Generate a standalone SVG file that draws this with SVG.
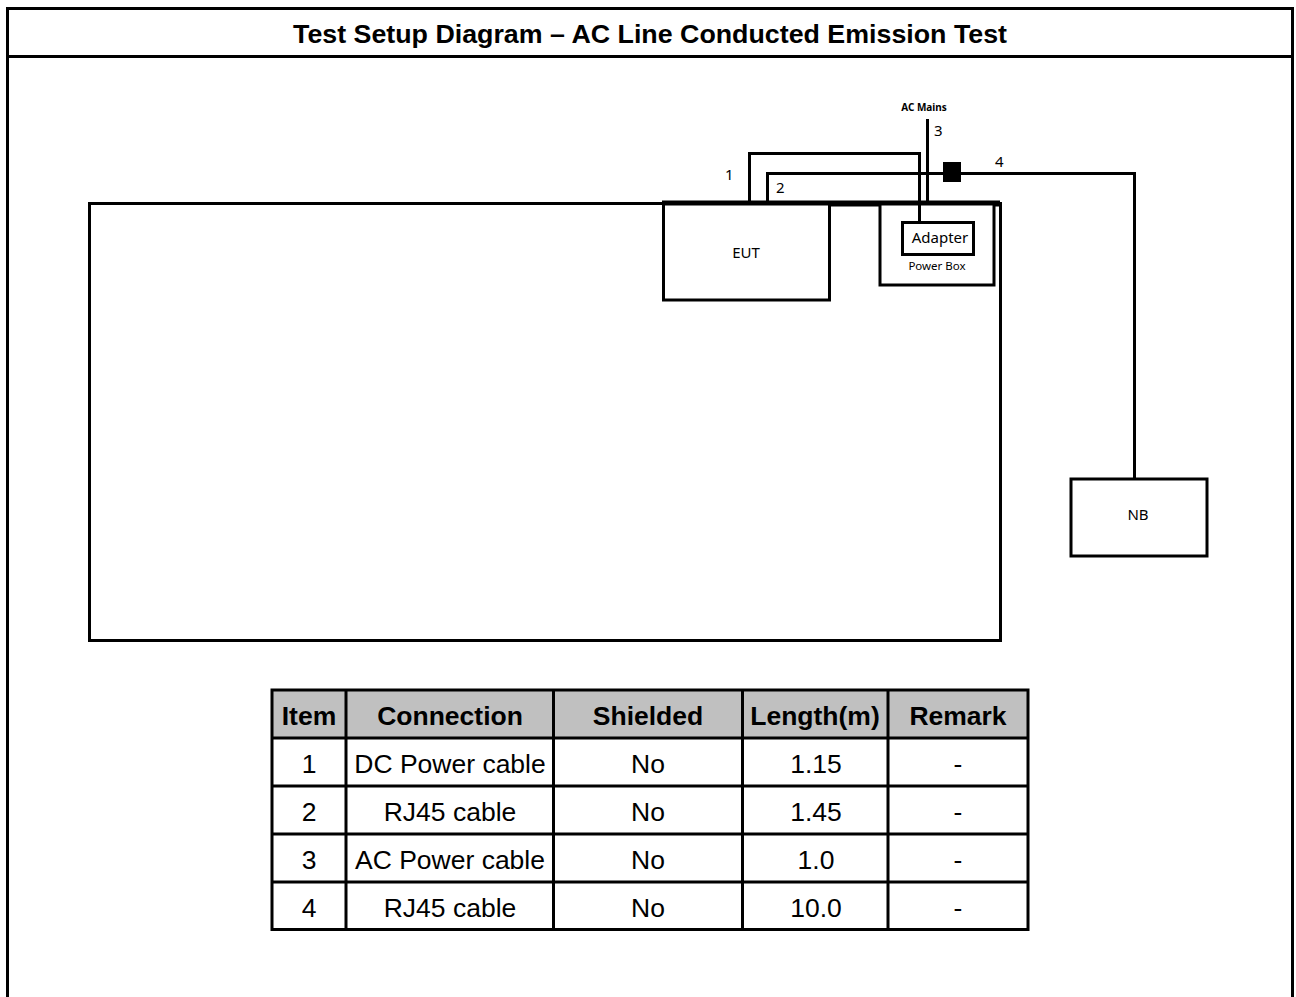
<svg xmlns="http://www.w3.org/2000/svg" width="1296" height="997" viewBox="0 0 1296 997">
<style>
.ln{fill:none;stroke:#000;stroke-width:3;stroke-linejoin:miter}
.box{fill:#fff;stroke:#000;stroke-width:3}
.lbl{font-family:"Noto Sans","Open Sans",sans-serif;font-size:15px;fill:#000}
.sm{font-family:"Noto Sans","Open Sans",sans-serif;font-size:11.5px;fill:#000}
.tb{font-family:"Liberation Sans",Arial,sans-serif;font-size:26.5px;fill:#000;text-anchor:middle}
.th{font-weight:bold}
.cell{fill:none;stroke:#000;stroke-width:3}
</style>
<rect width="1296" height="997" fill="#fff"/>
<g id="frame">
<path d="M7.5 997 V8.5 H1292.5 V997" class="ln"/>
<line x1="7" y1="56.5" x2="1293" y2="56.5" stroke="#000" stroke-width="3"/>
<text x="650" y="43" font-family="Liberation Sans,Arial,sans-serif" font-weight="bold" font-size="25" text-anchor="middle" textLength="714" lengthAdjust="spacingAndGlyphs">Test Setup Diagram – AC Line Conducted Emission Test</text>
</g>
<g id="table-area">
<rect x="89.5" y="203.5" width="911" height="437" class="box"/>
<line x1="662" y1="203.5" x2="1000" y2="203.5" stroke="#000" stroke-width="6"/>
</g>
<g id="eut">
<rect x="663.5" y="204" width="166" height="96" class="box"/>
<text x="746" y="258" class="lbl" font-size="14" text-anchor="middle">EUT</text>
</g>
<g id="powerbox">
<rect x="880" y="204" width="114" height="81" class="box" stroke-width="2.5"/>
<text x="937" y="270" class="sm" text-anchor="middle">Power Box</text>
</g>
<g id="adapter">
<rect x="902.5" y="222.5" width="71" height="32" class="box"/>
<text x="940" y="243" class="lbl" font-size="15" text-anchor="middle">Adapter</text>
</g>
<g id="nb">
<rect x="1071" y="479" width="136" height="77" class="box"/>
<text x="1138" y="520" class="lbl" text-anchor="middle">NB</text>
</g>
<g id="connectors">
<path d="M749.5 203 V153.5 H919.5 V222" class="ln"/>
<path d="M767.5 203 V173.5 H1134.5 V479" class="ln"/>
<line x1="927.5" y1="119" x2="927.5" y2="203" stroke="#000" stroke-width="3"/>
<rect x="943" y="162" width="18" height="20" fill="#000"/>
<text x="924" y="111" font-family="Noto Sans,Open Sans,sans-serif" font-weight="bold" font-size="10" text-anchor="middle">AC Mains</text>
<text x="934" y="136" class="lbl">3</text>
<text x="725" y="180" class="lbl">1</text>
<text x="776" y="193" class="lbl">2</text>
<text x="995" y="167" class="lbl">4</text>
</g>
<g id="cable-table">
<rect x="272" y="690" width="756" height="48" fill="#c0c0c0"/>
<rect x="272" y="690" width="756" height="239.5" class="cell"/>
<path d="M272 738 H1028 M272 786 H1028 M272 834 H1028 M272 882 H1028 M346 690 V929.5 M553.5 690 V929.5 M742.5 690 V929.5 M888 690 V929.5" class="cell"/>
<g class="tb th">
<text x="309" y="725">Item</text>
<text x="450" y="725">Connection</text>
<text x="648" y="725">Shielded</text>
<text x="815" y="725">Length(m)</text>
<text x="958" y="725">Remark</text>
</g>
<g class="tb">
<text x="309" y="773">1</text><text x="450" y="773">DC Power cable</text><text x="648" y="773">No</text><text x="816" y="773">1.15</text><text x="958" y="773">-</text>
<text x="309" y="821">2</text><text x="450" y="821">RJ45 cable</text><text x="648" y="821">No</text><text x="816" y="821">1.45</text><text x="958" y="821">-</text>
<text x="309" y="869">3</text><text x="450" y="869">AC Power cable</text><text x="648" y="869">No</text><text x="816" y="869">1.0</text><text x="958" y="869">-</text>
<text x="309" y="917">4</text><text x="450" y="917">RJ45 cable</text><text x="648" y="917">No</text><text x="816" y="917">10.0</text><text x="958" y="917">-</text>
</g>
</g>
</svg>
